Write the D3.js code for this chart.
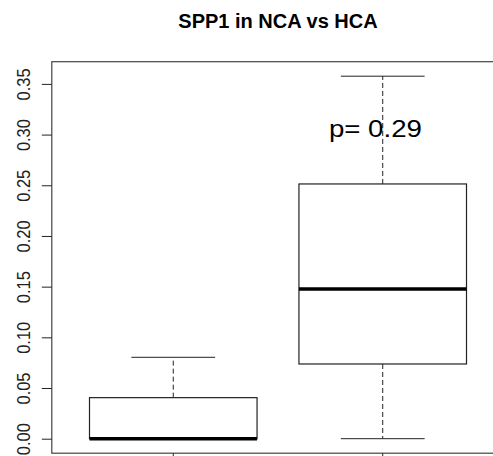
<!DOCTYPE html>
<html>
<head>
<meta charset="utf-8">
<script src="https://cdn.jsdelivr.net/npm/d3@7"></script>
<style>
  body { margin: 0; background: #fff; }
  text { font-family: "Liberation Sans", Arial, sans-serif; }
</style>
</head>
<body>
<script>
// Box statistics per group
var groups = ["NCA", "HCA"];
var mins    = [0, 0];
var q1s     = [0, 0.0737];
var medians = [0, 0.1477];
var q3s     = [0.0405, 0.2513];
var maxs    = [0.0803, 0.3576];

var yTicks = [0, 0.05, 0.10, 0.15, 0.20, 0.25, 0.30, 0.35];
var title = "SPP1 in NCA vs HCA";
var pLabel = "p= 0.29";

var width = 493, height = 456;
var plot = {left: 51.8, right: 504.2, top: 61.7, bottom: 453.2};

var svg = d3.select("body")
  .append("svg")
  .attr("width", width)
  .attr("height", height);

// R style: 4% padding around data range
var yMax = d3.max(maxs), yMin = d3.min(mins);
var pad = (yMax - yMin) * 0.04;
var y = d3.scaleLinear()
  .domain([yMin - pad, yMax + pad])
  .range([plot.bottom, plot.top]);

var x = d3.scaleLinear()
  .domain([0.5 - 0.08, groups.length + 0.5 + 0.08])
  .range([plot.left, plot.right]);

var boxW = 0.8;

// frame
svg.append("rect")
  .attr("x", plot.left)
  .attr("y", plot.top)
  .attr("width", plot.right - plot.left)
  .attr("height", plot.bottom - plot.top)
  .attr("fill", "none")
  .attr("stroke", "#444")
  .attr("stroke-width", 1.2);

// y axis
var yAxis = svg.append("g")
  .attr("transform", "translate(" + plot.left + ",0)")
  .call(d3.axisLeft(y).tickValues(yTicks).tickSize(10).tickSizeOuter(0)
    .tickFormat(d3.format(".2f")));
yAxis.select(".domain").remove();
yAxis.selectAll(".tick line").attr("stroke", "#222");
yAxis.selectAll(".tick text")
  .attr("transform", "rotate(-90)")
  .attr("x", 0)
  .attr("y", -22)
  .attr("dy", "0")
  .attr("text-anchor", "middle")
  .attr("font-size", 19)
  .attr("fill", "#222")
  .attr("textLength", 32)
  .attr("lengthAdjust", "spacingAndGlyphs");

// x ticks (labels fall below the visible area)
svg.selectAll(".xtick")
  .data(groups)
  .enter()
  .append("line")
  .attr("x1", function(d, i) { return x(i + 1); })
  .attr("x2", function(d, i) { return x(i + 1); })
  .attr("y1", plot.bottom)
  .attr("y2", plot.bottom + 10)
  .attr("stroke", "#222");

var box = svg.selectAll(".box")
  .data(groups)
  .enter()
  .append("g");

// whiskers
box.append("line")
  .attr("x1", function(d, i) { return x(i + 1); })
  .attr("x2", function(d, i) { return x(i + 1); })
  .attr("y1", function(d, i) { return y(q3s[i]); })
  .attr("y2", function(d, i) { return y(maxs[i]); })
  .attr("stroke", "#222")
  .attr("stroke-dasharray", "5,3");
box.append("line")
  .attr("x1", function(d, i) { return x(i + 1); })
  .attr("x2", function(d, i) { return x(i + 1); })
  .attr("y1", function(d, i) { return y(q1s[i]); })
  .attr("y2", function(d, i) { return y(mins[i]); })
  .attr("stroke", "#222")
  .attr("stroke-dasharray", "5,3");

// staples
box.append("line")
  .attr("x1", function(d, i) { return x(i + 1 - boxW / 4); })
  .attr("x2", function(d, i) { return x(i + 1 + boxW / 4); })
  .attr("y1", function(d, i) { return y(maxs[i]); })
  .attr("y2", function(d, i) { return y(maxs[i]); })
  .attr("stroke", "#222");
box.append("line")
  .attr("x1", function(d, i) { return x(i + 1 - boxW / 4); })
  .attr("x2", function(d, i) { return x(i + 1 + boxW / 4); })
  .attr("y1", function(d, i) { return y(mins[i]); })
  .attr("y2", function(d, i) { return y(mins[i]); })
  .attr("stroke", "#222");

// boxes
box.append("rect")
  .attr("x", function(d, i) { return x(i + 1 - boxW / 2); })
  .attr("width", function() { return x(1 + boxW / 2) - x(1 - boxW / 2); })
  .attr("y", function(d, i) { return y(q3s[i]); })
  .attr("height", function(d, i) { return y(q1s[i]) - y(q3s[i]); })
  .attr("fill", "#fff")
  .attr("stroke", "#222")
  .attr("stroke-width", 1.2);

// medians
box.append("line")
  .attr("x1", function(d, i) { return x(i + 1 - boxW / 2); })
  .attr("x2", function(d, i) { return x(i + 1 + boxW / 2); })
  .attr("y1", function(d, i) { return y(medians[i]); })
  .attr("y2", function(d, i) { return y(medians[i]); })
  .attr("stroke", "#000")
  .attr("stroke-width", 3.5);

// title
svg.append("text")
  .attr("x", (plot.left + plot.right) / 2)
  .attr("y", 28)
  .attr("text-anchor", "middle")
  .attr("font-size", 20)
  .attr("font-weight", "bold")
  .attr("fill", "#000")
  .text(title);

// p-value annotation
svg.append("text")
  .attr("x", x(1.965))
  .attr("y", y(0.3) + 2)
  .attr("text-anchor", "middle")
  .attr("font-size", 24)
  .attr("fill", "#000")
  .attr("textLength", 93)
  .attr("lengthAdjust", "spacingAndGlyphs")
  .text(pLabel);
</script>
</body>
</html>
